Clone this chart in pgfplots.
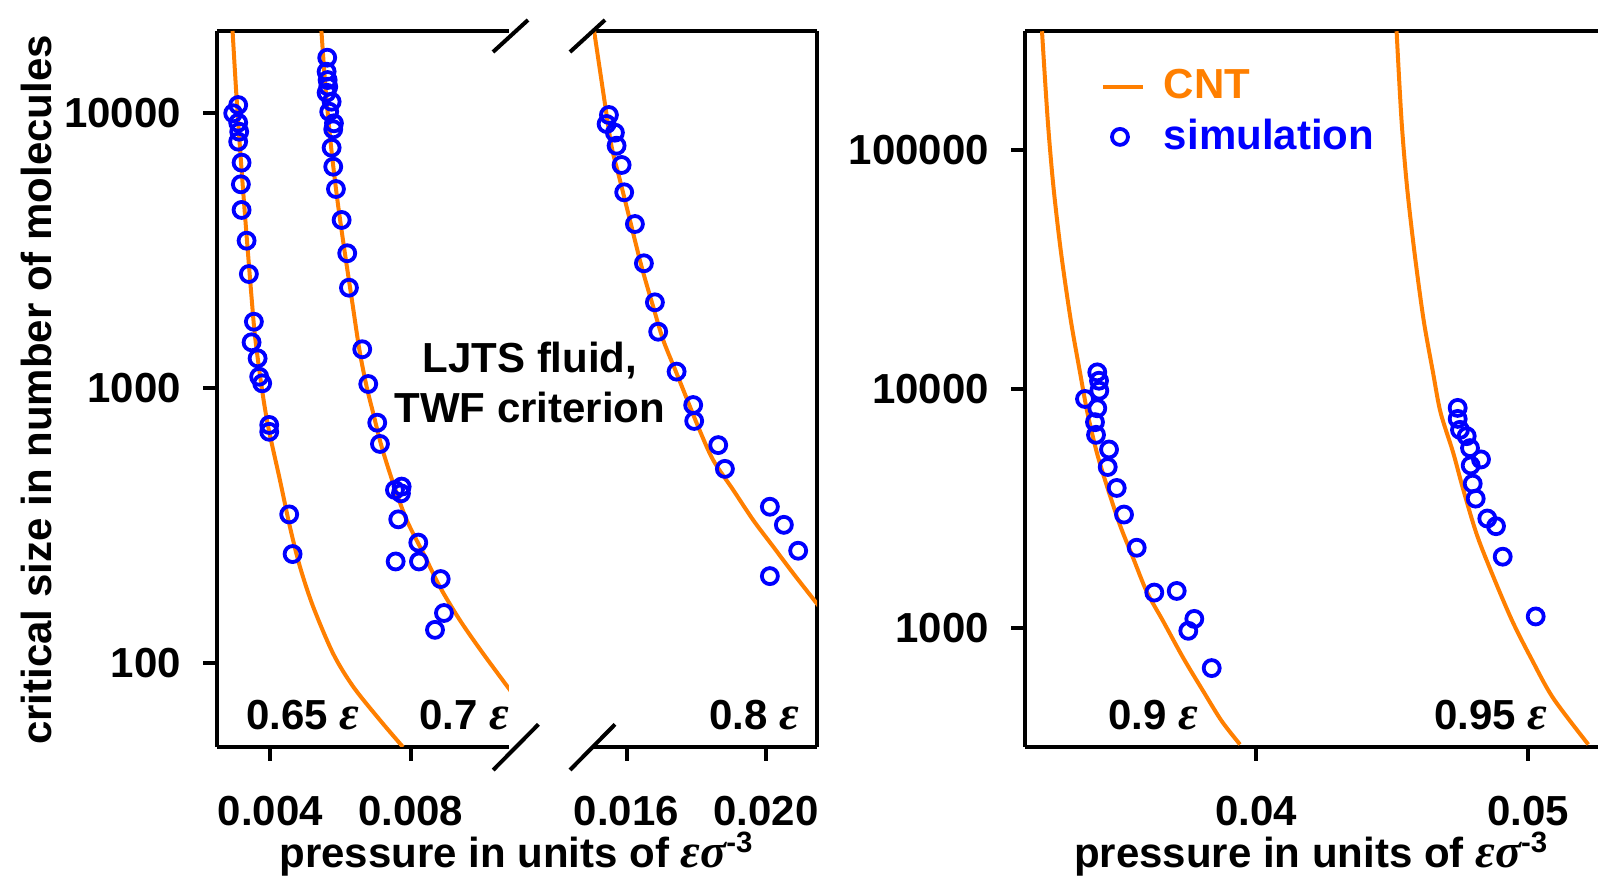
\documentclass[border=0pt]{standalone}
\usepackage{pgfplots}
\pgfplotsset{compat=1.18}
\usepackage{fontspec}
\setmainfont{Liberation Sans}
\newfontfamily\grk{Liberation Serif}
\definecolor{cnt}{RGB}{255,127,0}
\definecolor{sim}{RGB}{0,0,255}
\newcommand{\lab}{\fontsize{10.5}{12.5}\selectfont\bfseries}
\newcommand{\eps}{{\fontsize{12}{12}\selectfont\grk\itshape ε}}
\newcommand{\epsig}{{\fontsize{12}{12}\selectfont\grk\itshape εσ}}
\pgfplotsset{
  leglineimg/.style={legend image code/.code={\draw[##1] (0pt,0pt) -- (10pt,0pt);}},
  legmarkimg/.style={legend image code/.code={\draw[##1] plot coordinates {(4.25pt,0pt)};}},
}
\begin{document}
\begin{tikzpicture}
\path[use as bounding box] (0,0) rectangle (399.5pt,219.5pt);
% ---------- left segment ----------
\begin{semilogyaxis}[scale only axis, height=179pt, width=73pt,
  at={(54.25pt,32.75pt)}, anchor=south west,
  axis line style={line width=1pt}, tick style={line width=1pt,black},
  major tick length=3.5pt, tick align=outside,
  xminorticks=false, yminorticks=false, scaled x ticks=false,
  tick label style={font=\lab}, xticklabel style={yshift=-5.25pt}, yticklabel style={xshift=-2pt},
  xmin=0.00248, xmax=0.010807, ymin=49.5, ymax=19870,
  axis y line*=left, xtick pos=left,
  xtick={0.004,0.008}, xticklabels={0.004,0.008},
  ytick={100,1000,10000}, yticklabels={100,1000,10000}]
\addplot[cnt, line width=1pt, smooth, no markers] table {
0.002924 19870
0.003036 11465
0.003167 6563
0.003304 3860
0.003464 2148
0.003566 1536
0.003752 1011
0.003940 723
0.004274 463
0.004559 313
0.004845 224
0.005224 160
0.005795 108
0.006365 82
0.007127 62
0.007783 49.5
};
\addplot[cnt, line width=1pt, smooth, no markers] table {
0.005458 19870
0.005579 12125
0.005743 7337
0.005920 4759
0.006114 3176
0.006328 2089
0.006542 1375
0.006747 1011
0.006936 809
0.007175 612
0.007506 450
0.007889 331
0.008362 251
0.008839 189
0.009409 143
0.010074 108
0.010979 75.4
};
\addplot[sim, only marks, mark=o, mark size=2pt, line width=0.95pt] table {
0.003084 10690
0.002942 9975
0.003084 9220
0.003113 8550
0.003084 7870
0.003181 6600
0.003161 5505
0.003181 4440
0.003324 3433
0.003389 2597
0.003532 1742
0.003466 1466
0.003638 1282
0.003683 1099
0.003769 1040
0.003969 734
0.003969 693
0.004539 347
0.004636 249
};
\addplot[sim, only marks, mark=o, mark size=2pt, line width=0.95pt] table {
0.005623 15890
0.005606 14130
0.005635 13180
0.005652 12460
0.005606 11850
0.005749 10990
0.005680 10110
0.005815 9175
0.005795 8724
0.005749 7477
0.005795 6378
0.005872 5291
0.006034 4083
0.006194 3090
0.006243 2316
0.006622 1383
0.006793 1034
0.007050 748
0.007127 626
0.007555 426
0.007746 438
0.007726 414
0.007649 333
0.008220 274
0.007575 234
0.008240 234
0.008859 202
0.008953 152
0.008697 132
};
\end{semilogyaxis}
% ---------- middle segment ----------
\begin{semilogyaxis}[scale only axis, height=179pt, width=56pt,
  at={(148.25pt,32.75pt)}, anchor=south west,
  axis line style={line width=1pt}, tick style={line width=1pt,black},
  major tick length=3.5pt, tick align=outside,
  xminorticks=false, yminorticks=false, scaled x ticks=false,
  tick label style={font=\lab}, xticklabel style={yshift=-5.25pt},
  xmin=0.01504, xmax=0.02146, ymin=49.5, ymax=19870,
  axis y line*=right, ytick=\empty, xtick pos=left,
  xtick={0.016,0.020}, xticklabels={0.016,0.020}]
\addplot[cnt, line width=1pt, smooth, no markers] table {
0.015072 19870
0.015238 14335
0.015395 10540
0.015573 7544
0.015811 5707
0.016097 4083
0.016433 2761
0.016765 1975
0.017052 1494
0.017436 1131
0.018054 723
0.018484 547
0.019057 426
0.019630 331
0.020203 265
0.020776 212
0.021447 165
0.021828 143
};
\addplot[sim, only marks, mark=o, mark size=2pt, line width=0.95pt] table {
0.015496 9834
0.015430 9120
0.015668 8481
0.015716 7605
0.015860 6471
0.015934 5147
0.016241 3948
0.016499 2841
0.016814 2049
0.016908 1602
0.017436 1147
0.017911 867
0.017940 759
0.018628 620
0.018820 508
0.020109 370
0.020510 318
0.020920 256
0.020109 207
};
\end{semilogyaxis}
% ---------- right panel ----------
\begin{semilogyaxis}[scale only axis, height=179pt, width=143.25pt,
  at={(256.25pt,32.75pt)}, anchor=south west,
  axis line style={line width=1pt}, tick style={line width=1pt,black},
  major tick length=3.5pt, tick align=outside,
  xminorticks=false, yminorticks=false, scaled x ticks=false,
  tick label style={font=\lab}, xticklabel style={yshift=-5.25pt}, yticklabel style={xshift=-2pt},
  xmin=0.031507, xmax=0.052574, ymin=316.23, ymax=316228,
  axis y line*=left, xtick pos=left,
  xtick={0.04,0.05}, xticklabels={0.04,0.05},
  ytick={1000,10000,100000}, yticklabels={1000,10000,100000},
  legend style={at={(0.1326,0.947)}, anchor=north west, draw=none, fill=none,
    inner sep=0pt, outer sep=0pt, font=\lab, row sep=3.6pt,
    nodes={inner sep=0pt, outer sep=0pt},
    /tikz/every odd column/.append style={column sep=4.75pt}},
  legend cell align=left]
\addplot[cnt, line width=1pt, smooth, no markers, leglineimg] table {
0.032132 315500
0.032342 134100
0.032551 70620
0.032831 37330
0.033184 19604
0.033529 11740
0.033798 7990
0.034143 5441
0.034511 3947
0.035000 2687
0.035489 1951
0.035982 1416
0.036592 1061
0.037327 746
0.038063 541
0.038739 406
0.039412 324
};
\addlegendentry{\textcolor{cnt}{CNT}}
\addplot[cnt, line width=1pt, smooth, no markers, forget plot] table {
0.045169 315500
0.045349 134100
0.045551 70620
0.045827 37330
0.046158 19604
0.046507 11740
0.046783 7990
0.047243 5441
0.047610 3823
0.048125 2441
0.048750 1609
0.049430 1061
0.050110 746
0.050919 508
0.052217 324
};
\addplot[sim, only marks, mark=o, mark size=2pt, line width=0.95pt, legmarkimg] table {
0.034165 11740
0.034228 10830
0.034239 9837
0.033713 9082
0.034165 8306
0.034080 7261
0.034118 6426
0.034596 5579
0.034548 4711
0.034879 3849
0.035147 2978
0.035614 2162
0.036261 1403
0.037085 1425
0.037732 1088
0.037511 970
0.038371 677
};
\addlegendentry{\textcolor{sim}{simulation}}
\addplot[sim, only marks, mark=o, mark size=2pt, line width=0.95pt, forget plot] table {
0.047415 8331
0.047415 7494
0.047500 6742
0.047746 6346
0.047868 5654
0.048272 5068
0.047893 4783
0.047967 4012
0.048077 3473
0.048504 2866
0.048824 2661
0.049070 1983
0.050283 1114
};
\end{semilogyaxis}
% ---------- axis breaks ----------
\draw[line width=1pt] (123.25pt,206.5pt) -- (132pt,214.5pt);
\draw[line width=1pt] (142.5pt,206.5pt) -- (151.25pt,214.5pt);
\draw[line width=1pt] (123.3pt,27pt) -- (134.6pt,38.4pt);
\draw[line width=1pt] (142.5pt,27pt) -- (153.75pt,38.4pt);
% ---------- texts ----------
\node[rotate=90, font=\lab] at (9pt,122pt) {critical size in number of molecules};
\node[anchor=base, font=\lab] at (129.25pt,2.5pt) {pressure in units of \epsig\textsuperscript{-3}};
\node[anchor=base, font=\lab] at (327.9pt,2.5pt) {pressure in units of \epsig\textsuperscript{-3}};
\node[anchor=base, font=\lab] at (75.75pt,37pt) {0.65 \eps};
\node[anchor=base, font=\lab] at (116.1pt,37pt) {0.7 \eps};
\node[anchor=base, font=\lab] at (188.5pt,37pt) {0.8 \eps};
\node[anchor=base, font=\lab] at (288.25pt,37pt) {0.9 \eps};
\node[anchor=base, font=\lab] at (372.75pt,37pt) {0.95 \eps};
\node[anchor=base, font=\lab] at (132.5pt,126.25pt) {LJTS fluid,};
\node[anchor=base, font=\lab] at (132.5pt,113.75pt) {TWF criterion};
\end{tikzpicture}
\end{document}
